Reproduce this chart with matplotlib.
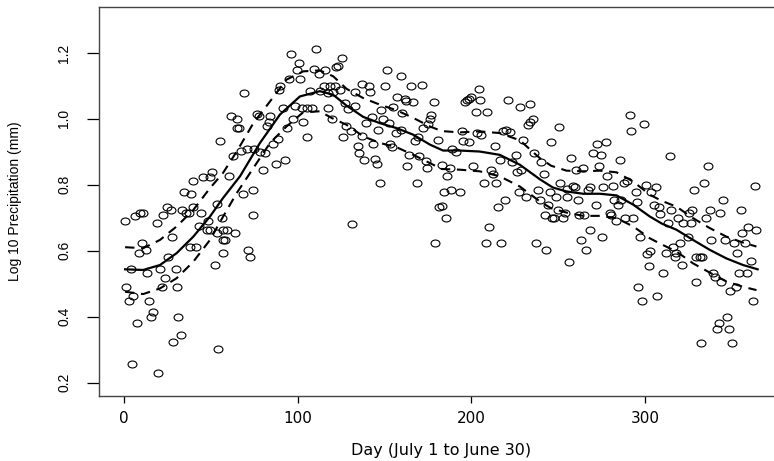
import numpy as np
import matplotlib
matplotlib.use('Agg')
import matplotlib.pyplot as plt
from matplotlib.path import Path
from matplotlib.markers import MarkerStyle
from matplotlib.transforms import Affine2D

# daily log10 precipitation (day, value)
day = [0.6, 6.3, 9.2, 11.1, 18.8, 22.6, 24.9, 26.9, 33.2, 35.7, 37.6, 39.9, 44.1, 45.7, 49.5, 50.5,
       39.5, 34.5, 38.4, 55.3, 48.5, 49.5, 43.4, 47.6, 53.3, 56.2, 53.7, 27.4, 10.6, 8.8, 12.7, 38.0,
       41.4, 25.5, 3.8, 13.4, 20.7, 29.9, 23.6, 21.7, 30.3, 1.1, 5.4, 3.1, 14.6, 16.5, 15.4, 7.7,
       31.3, 32.6, 28.0, 54.3, 4.4, 19.8, 52.4, 56.8, 57.2, 57.2,
       96.1, 110.3, 100.8, 99.4, 95.0, 89.8, 89.4, 101.3, 69.3, 109.6, 112.3, 115.7, 107.1, 112.8,
       115.1, 118.6, 117.6, 91.7, 98.4, 102.3, 105.2, 108.0, 117.6, 119.6, 97.1, 103.2, 61.4, 64.9,
       64.9, 66.4, 76.4, 77.9, 84.1, 83.7, 82.1, 93.6, 105.5, 67.2, 70.6, 75.0, 78.3, 81.2, 86.0,
       88.9, 62.6, 87.5, 92.7, 79.8, 60.6, 68.3, 74.1, 74.5, 59.1, 63.9, 58.2, 71.6, 72.5,
       125.3, 122.1, 123.4, 151.2, 159.3, 137.2, 141.1, 141.6, 150.3, 165.2, 171.4, 121.5, 124.4,
       120.5, 133.0, 178.5, 157.0, 161.8, 162.7, 166.6, 127.2, 133.0, 129.2, 155.1, 148.3, 159.9,
       142.6, 148.9, 152.8, 177.1, 176.2, 175.2, 139.3, 172.3, 159.3, 146.4, 156.6, 127.8, 130.5,
       136.8, 126.3, 169.5, 167.5, 180.6, 143.5, 153.1, 154.1, 134.9, 135.5, 164.3, 170.0, 138.2,
       144.5, 145.5, 173.9, 174.3, 163.1, 147.4, 168.5, 131.6, 179.1, 181.5, 183.0,
       204.4, 200.1, 198.8, 197.3, 196.3, 205.3, 221.2, 228.3, 234.1, 202.6, 209.3, 235.6, 233.7,
       232.8, 194.4, 203.4, 205.9, 218.4, 220.3, 222.6, 195.3, 198.8, 229.9, 246.2, 213.6, 236.2,
       189.2, 191.1, 225.7, 216.4, 223.7, 240.4, 183.0, 187.7, 201.1, 211.6, 212.6, 228.9, 226.4,
       241.8, 186.1, 207.2, 214.5, 184.2, 188.6, 193.4, 227.6, 231.4, 238.5, 245.2, 219.3, 239.5,
       244.3, 215.5, 185.4, 242.4, 246.8, 210.3, 208.4, 217.4, 237.2, 243.3,
       291.4, 299.4, 292.3, 250.7, 272.5, 277.5, 270.2, 274.5, 257.4, 285.6, 273.5, 260.3, 264.5,
       278.3, 289.8, 287.9, 251.4, 258.7, 259.7, 254.9, 268.3, 267.4, 276.0, 281.4, 300.6, 306.3,
       294.8, 303.8, 248.8, 255.3, 261.6, 282.1, 286.0, 295.6, 271.8, 284.6, 305.2, 308.2, 250.1,
       253.9, 247.6, 252.6, 262.2, 265.1, 279.8, 280.8, 288.5, 293.3, 283.3, 309.0, 268.3, 263.5,
       275.4, 297.1, 266.4, 302.9, 301.5, 256.4, 302.5, 310.5, 296.2, 307.3, 298.5,
       314.4, 336.4, 334.1, 328.4, 363.3, 345.1, 355.2, 337.4, 343.5, 327.4, 325.5, 315.3, 335.5,
       319.2, 322.0, 326.4, 313.4, 359.5, 356.2, 364.3, 338.3, 346.0, 351.2, 357.5, 324.9, 320.1,
       316.3, 312.1, 318.2, 317.2, 353.3, 329.7, 331.6, 333.2, 321.6, 361.4, 354.3, 358.9, 339.3,
       340.3, 344.1, 329.3, 352.7, 349.3, 362.3, 347.4, 342.8, 341.6, 348.5, 332.6, 350.2]
precip = [0.691, 0.707, 0.716, 0.716, 0.683, 0.709, 0.732, 0.724, 0.724, 0.716, 0.716, 0.734, 0.716,
          0.824, 0.824, 0.839, 0.813, 0.778, 0.771, 0.934, 0.691, 0.664, 0.674, 0.664, 0.653, 0.699,
          0.742, 0.643, 0.625, 0.593, 0.603, 0.613, 0.613, 0.581, 0.544, 0.532, 0.544, 0.544, 0.519,
          0.491, 0.491, 0.491, 0.463, 0.449, 0.448, 0.416, 0.400, 0.380, 0.400, 0.345, 0.325, 0.301,
          0.257, 0.231, 0.557, 0.593, 0.633, 0.664,
          1.197, 1.213, 1.168, 1.147, 1.121, 1.099, 1.089, 1.121, 1.078, 1.151, 1.136, 1.147, 1.084,
          1.084, 1.101, 1.101, 1.078, 1.033, 1.038, 1.033, 1.033, 1.033, 1.033, 0.999, 1.001, 0.991,
          1.008, 1.000, 0.972, 0.972, 1.016, 1.008, 1.010, 0.992, 0.979, 0.972, 0.945, 0.904, 0.908,
          0.908, 0.901, 0.898, 0.925, 0.939, 0.886, 0.864, 0.874, 0.846, 0.826, 0.772, 0.785, 0.709,
          0.664, 0.655, 0.633, 0.603, 0.581,
          1.185, 1.157, 1.161, 1.147, 1.129, 1.106, 1.099, 1.080, 1.099, 1.099, 1.102, 1.099, 1.089,
          1.080, 1.080, 1.051, 1.066, 1.060, 1.053, 1.051, 1.048, 1.040, 1.030, 1.036, 1.028, 1.018,
          1.006, 1.000, 0.987, 1.013, 1.000, 0.984, 0.987, 0.972, 0.967, 0.965, 0.957, 0.979, 0.962,
          0.949, 0.945, 0.945, 0.932, 0.935, 0.925, 0.925, 0.914, 0.917, 0.896, 0.891, 0.886, 0.874,
          0.879, 0.863, 0.871, 0.851, 0.858, 0.805, 0.805, 0.682, 0.623, 0.732, 0.735,
          1.092, 1.066, 1.061, 1.056, 1.052, 1.056, 1.058, 1.036, 1.045, 1.020, 1.020, 1.000, 0.992,
          0.982, 0.964, 0.957, 0.952, 0.962, 0.965, 0.959, 0.934, 0.929, 0.935, 0.929, 0.917, 0.896,
          0.908, 0.900, 0.891, 0.874, 0.868, 0.868, 0.861, 0.851, 0.858, 0.846, 0.833, 0.846, 0.838,
          0.833, 0.826, 0.805, 0.805, 0.777, 0.783, 0.777, 0.777, 0.763, 0.783, 0.777, 0.755, 0.755,
          0.740, 0.732, 0.699, 0.709, 0.699, 0.672, 0.623, 0.623, 0.623, 0.603,
          1.013, 0.985, 0.964, 0.975, 0.924, 0.929, 0.896, 0.891, 0.880, 0.874, 0.858, 0.846, 0.852,
          0.826, 0.813, 0.807, 0.805, 0.798, 0.792, 0.787, 0.792, 0.785, 0.792, 0.798, 0.799, 0.792,
          0.777, 0.777, 0.763, 0.763, 0.755, 0.755, 0.755, 0.748, 0.740, 0.740, 0.740, 0.732, 0.724,
          0.716, 0.699, 0.699, 0.709, 0.709, 0.716, 0.709, 0.699, 0.699, 0.689, 0.712, 0.664, 0.633,
          0.643, 0.643, 0.603, 0.601, 0.591, 0.567, 0.555, 0.532, 0.491, 0.463, 0.448,
          0.886, 0.858, 0.805, 0.785, 0.798, 0.755, 0.724, 0.724, 0.716, 0.724, 0.716, 0.724, 0.699,
          0.699, 0.684, 0.684, 0.684, 0.672, 0.653, 0.664, 0.633, 0.633, 0.625, 0.625, 0.643, 0.625,
          0.613, 0.593, 0.593, 0.581, 0.593, 0.581, 0.581, 0.581, 0.557, 0.569, 0.532, 0.532, 0.532,
          0.520, 0.505, 0.505, 0.491, 0.479, 0.448, 0.398, 0.380, 0.363, 0.363, 0.322, 0.322]

# smooth fit and its pointwise band
fit_day = [0.6, 11, 20.7, 30.3, 39.9, 49.5, 57, 66.8, 78.3, 89.8, 101.3, 112.8, 120.5, 128.2, 137.8,
           147.4, 157, 166.6, 176.2, 183.8, 193.4, 204.9, 216.4, 228, 239.5, 247, 254.9, 264.5, 274.1,
           283.7, 293.3, 302.9, 310, 318.2, 327.8, 337.4, 347, 356.6, 365]
fit = [0.544, 0.542, 0.557, 0.593, 0.643, 0.704, 0.760, 0.826, 0.927, 1.013, 1.068, 1.084, 1.073,
       1.040, 1.006, 0.987, 0.972, 0.952, 0.922, 0.904, 0.904, 0.901, 0.891, 0.861, 0.817, 0.792,
       0.780, 0.773, 0.773, 0.768, 0.740, 0.704, 0.682, 0.664, 0.633, 0.603, 0.577, 0.557, 0.544]

up_day = [0.6, 11, 20.7, 30.3, 39.9, 49.5, 57, 64.9, 74.5, 84.1, 93.6, 103.2, 112.8, 120.5, 128.2,
          137.8, 147.4, 157, 166.6, 176.2, 183, 193.4, 204.9, 216.4, 228, 239.5, 246, 254.9, 264.5,
          274.1, 283.7, 293.3, 302.9, 309.5, 318.2, 327.8, 337.4, 347, 356.6, 364.3]
upper = [0.611, 0.608, 0.633, 0.674, 0.724, 0.790, 0.836, 0.901, 0.987, 1.053, 1.119, 1.144, 1.147,
         1.129, 1.091, 1.063, 1.043, 1.026, 1.003, 0.977, 0.963, 0.959, 0.962, 0.957, 0.935, 0.881,
         0.858, 0.843, 0.841, 0.843, 0.838, 0.810, 0.770, 0.752, 0.734, 0.699, 0.669, 0.643, 0.625,
         0.613]

lo_day = [0.6, 11, 20.7, 30.3, 39.9, 49.5, 56, 64.9, 74.5, 84.1, 93.6, 103.2, 112.8, 119.5, 128.2,
          137.8, 147.4, 157, 166.6, 176.2, 183, 193.4, 204.9, 216.4, 228, 239.5, 246, 254.9, 264.5,
          274.1, 283.7, 293.3, 302.9, 309.5, 318.2, 327.8, 337.4, 347, 356.6, 364.3]
lower = [0.476, 0.469, 0.486, 0.517, 0.567, 0.633, 0.694, 0.775, 0.851, 0.927, 0.977, 1.020, 1.023,
         1.003, 0.982, 0.947, 0.927, 0.914, 0.891, 0.866, 0.848, 0.846, 0.841, 0.826, 0.795, 0.750,
         0.729, 0.716, 0.706, 0.706, 0.699, 0.674, 0.638, 0.620, 0.598, 0.562, 0.534, 0.507, 0.491,
         0.481]

xticks = [0, 100, 200, 300]
yticks = [0.2, 0.4, 0.6, 0.8, 1.0, 1.2]

fig = plt.figure(figsize=(7.74, 4.61), dpi=100)
ax = fig.add_axes([98.7 / 774, 65 / 461, 684.3 / 774, 389.3 / 461])

# slightly wide open circles (the original picture is stretched sideways)
ell = Path.unit_circle().transformed(Affine2D().scale(1.28, 1.0))
ax.plot(day, precip, linestyle='none', marker=MarkerStyle(ell), markersize=6.4,
        markerfacecolor='none', markeredgecolor='black', markeredgewidth=0.8)

ax.plot(fit_day, fit, color='black', lw=1.6)
ax.plot(up_day, upper, color='black', lw=1.5, linestyle=(0, (4.5, 3.2)))
ax.plot(lo_day, lower, color='black', lw=1.5, linestyle=(0, (4.5, 3.2)))

ax.set_xlim(-14.6, 379.6)
ax.set_ylim(0.16, 1.34)
ax.set_xticks(xticks)
ax.set_xticklabels([str(t) for t in xticks], family='DejaVu Sans', fontsize=11)
ax.set_yticks(yticks)
ax.set_yticklabels([f'{t:.1f}' for t in yticks], family='Liberation Sans', fontsize=10,
                   rotation=90, va='center')
ax.tick_params(axis='x', length=5, width=0.9, pad=6)
ax.tick_params(axis='y', length=8.6, width=0.9, pad=11)

for s in ax.spines.values():
    s.set_color('#444444')
    s.set_linewidth(1.0)

ax.set_xlabel('Day (July 1 to June 30)', family='DejaVu Sans', fontsize=11.5)
ax.xaxis.set_label_coords(0.5, -0.139)
ax.xaxis.label.set_va('center')
ax.set_ylabel('Log 10 Precipitation (mm)', family='Liberation Sans', fontsize=10)
ax.yaxis.set_label_coords(-0.1223, 0.5)
ax.yaxis.label.set_va('center')

fig.savefig('out.png', dpi=100)
